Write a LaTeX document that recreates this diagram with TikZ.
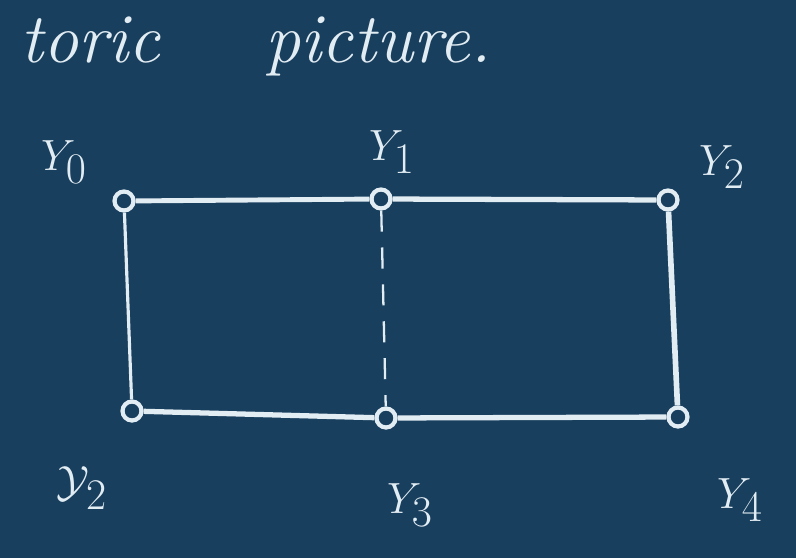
\documentclass[tikz,border=0pt]{standalone}
\usepackage{amsmath, amssymb}
\usepackage{tikz}
\usetikzlibrary{positioning}
\usepackage{xcolor}
\definecolor{board}{RGB}{24,63,94}
\definecolor{chalk}{RGB}{226,236,243}

\begin{document}
\begin{tikzpicture}[x=0.02cm, y=-0.02cm, every node/.style={font=\fontsize{36}{40}\selectfont, text=chalk}]

% Board
\fill[board] (0,0) rectangle (796,558);
\useasboundingbox (0,0) rectangle (796,558);

% Title
\node[anchor=west,font=\fontsize{40}{44}\selectfont] at (14,46) (title) {\textit{toric}\hspace{2.1cm}\textit{picture.}};

% Vertices
\node[circle,draw=chalk,line width=2.4pt,minimum size=0.38cm,inner sep=0pt] at (124,201) (Y0) {};
\node[circle,draw=chalk,line width=2.4pt,minimum size=0.38cm,inner sep=0pt] at (381,199) (Y1) {};
\node[circle,draw=chalk,line width=2.4pt,minimum size=0.38cm,inner sep=0pt] at (668,200) (Y2) {};
\node[circle,draw=chalk,line width=2.4pt,minimum size=0.38cm,inner sep=0pt] at (132,411) (Y5) {};
\node[circle,draw=chalk,line width=2.4pt,minimum size=0.38cm,inner sep=0pt] at (386,418) (Y3) {};
\node[circle,draw=chalk,line width=2.4pt,minimum size=0.38cm,inner sep=0pt] at (678,417) (Y4) {};

% Labels
\node at (64,162) (L0) {$Y_0$};
\node at (392,152) (L1) {$Y_1$};
\node at (722,167) (L2) {$Y_2$};
\node at (82,488) (L5) {$\mathcal{Y}_2$};
\node at (410,505) (L3) {$Y_3$};
\node at (740,500) (L4) {$Y_4$};

% Edges
\draw[chalk,line width=2.8pt] (Y0) -- (Y1);
\draw[chalk,line width=3pt] (Y1) -- (Y2);
\draw[chalk,line width=1.8pt] (Y0) -- (Y5);
\draw[chalk,line width=3.2pt] (Y2) -- (Y4);
\draw[chalk,line width=3pt] (Y5) -- (Y3);
\draw[chalk,line width=3pt] (Y3) -- (Y4);
\draw[chalk,line width=1.3pt,dash pattern=on 12pt off 9pt] (Y1) -- (Y3);
\end{tikzpicture}
\end{document}
